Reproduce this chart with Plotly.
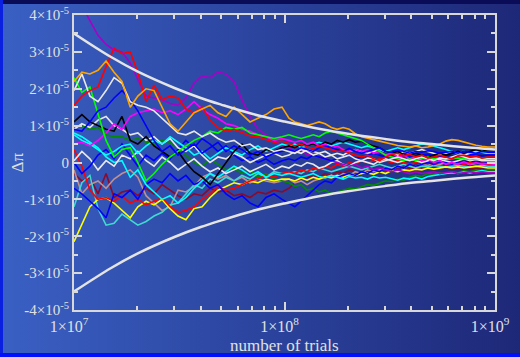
import base64
import numpy as np
import plotly.graph_objects as go

# ---------------- data (trials in units of 1e7, deviations in units of 1e-5) -------------
N_GRID = [1.0, 1.09, 1.19, 1.3, 1.42, 1.55, 1.69, 1.85, 2.01, 2.2, 2.4, 2.62, 2.86, 3.12, 3.4,
          3.72, 4.06, 4.43, 4.83, 5.27, 5.76, 6.28, 6.86, 7.48, 8.17, 8.92, 9.73,
          10.5, 11.2, 12, 12.8, 13.7, 14.6, 15.6, 16.7, 17.8, 19, 20.3, 21.7, 23.2, 24.8, 26.5,
          28.3, 30.2, 32.3, 34.5, 36.8, 39.3, 42, 44.9, 48, 51.2, 54.7, 58.4, 62.4, 66.7, 71.2,
          76, 81.2, 86.7, 92.6, 100]

red_up = [1.55, 1.8, 1.95, 2.05, 2.6, 3.1, 2.95, 3.0, 2.45, 1.65, 2.1, 1.7, 1.8, 1.75, 1.45, 1.35, 1.5, 1.15, 0.95, 0.85, 0.9, 0.8, 0.72, 0.7, 0.62, 0.55, 0.58] + \
         [0.5, 0.45, 0.5, 0.42, 0.38, 0.45, 0.4, 0.35, 0.3, 0.32, 0.25, 0.2, 0.15, 0.2, 0.1, 0.05, 0.15, 0.22, 0.25, 0.18, 0.22, 0.15, 0.2, 0.12, 0.15, 0.2, 0.15, 0.1, 0.18, 0.2, 0.15, 0.18, 0.12, 0.15, 0.15]
orange = [2.2, 2.45, 2.4, 2.5, 2.75, 2.45, 2.2, 1.5, 1.8, 2.0, 1.95, 1.5, 1.05, 0.85, 1.1, 1.35, 1.45, 1.55, 1.35, 1.25, 1.5, 1.3, 1.1, 1.2, 1.3, 1.45, 1.5] + \
         [1.2, 1.1, 1.05, 1.0, 1.05, 1.1, 1.05, 0.95, 0.9, 0.95, 0.9, 0.78, 0.7, 0.65, 0.62, 0.58, 0.55, 0.5, 0.46, 0.44, 0.42, 0.45, 0.4, 0.42, 0.45, 0.5, 0.58, 0.62, 0.6, 0.55, 0.5, 0.47, 0.44, 0.42, 0.42]
white1 = [1.95, 2.4, 1.8, 1.65, 1.95, 2.3, 2.15, 1.65, 1.55, 1.5, 1.4, 1.2, 1.0, 0.8, 0.75, 0.85, 0.7, 0.8, 0.65, 0.55, 0.6, 0.45, 0.5, 0.35, 0.4, 0.3, 0.35] + \
         [0.3, 0.25, 0.35, 0.3, 0.2, 0.25, 0.15, 0.2, 0.1, 0.15, 0.2, 0.1, 0.05, 0.12, 0.1, 0.0, 0.05, 0.1, 0.15, 0.1, 0.05, 0.1, 0.15, 0.1, 0.05, 0.12, 0.1, 0.15, 0.2, 0.15, 0.1, 0.12, 0.08, 0.1, 0.1]
white2 = [0.9, 1.05, 0.95, 1.15, 1.25, 1.0, 0.9, 0.75, 0.8, 0.6, 0.7, 0.5, 0.65, 0.4, 0.3, 0.45, 0.2, 0.0, 0.15, 0.1, 0.25, 0.15, 0.0, 0.1, 0.2, 0.25, 0.15] + \
         [0.2, 0.3, 0.25, 0.35, 0.3, 0.25, 0.3, 0.2, 0.25, 0.2, 0.3, 0.35, 0.3, 0.25, 0.3, 0.35, 0.3, 0.25, 0.2, 0.3, 0.25, 0.3, 0.35, 0.3, 0.25, 0.2, 0.25, 0.3, 0.25, 0.2, 0.25, 0.3, 0.28, 0.25, 0.25]
white3 = [0.05, 0.3, 0.1, -0.2, 0.05, -0.1, 0.2, 0.1, 0.3, 0.05, -0.1, 0.15, 0.0, -0.2, -0.05, 0.1, -0.1, -0.25, -0.15, -0.3, -0.2, -0.1, -0.25, -0.15, -0.05, -0.2, -0.1] + \
         [-0.15, -0.05, -0.1, 0.0, -0.05, -0.15, -0.1, 0.0, 0.05, -0.05, -0.1, 0.0, 0.05, 0.0, -0.05, 0.05, 0.1, 0.05, 0.0, 0.05, 0.1, 0.05, 0.0, 0.05, 0.1, 0.08, 0.05, 0.0, 0.05, 0.1, 0.05, 0.08, 0.05, 0.05, 0.05]
blue_up = [0.9, 0.85, 1.1, 1.4, 1.5, 1.75, 1.95, 1.7, 1.4, 1.0, 0.6, 0.3, 0.45, 0.2, 0.35, 0.5, 0.25, 0.4, 0.55, 0.3, 0.45, 0.35, 0.2, 0.3, 0.15, 0.25, 0.3] + \
          [0.35, 0.3, 0.4, 0.35, 0.3, 0.4, 0.45, 0.4, 0.35, 0.3, 0.38, 0.3, 0.25, 0.3, 0.35, 0.4, 0.3, 0.28, 0.35, 0.3, 0.25, 0.3, 0.28, 0.32, 0.3, 0.25, 0.28, 0.3, 0.25, 0.3, 0.28, 0.25, 0.3, 0.28, 0.28]
blue_low = [-0.7, -0.85, -1.05, -1.25, -1.5, -0.85, -0.95, -0.75, -1.0, -0.6, -0.45, -0.55, -0.3, -0.5, -0.35, -0.6, -0.5, -0.7, -0.6, -0.85, -1.0, -0.9, -1.1, -1.2, -0.95, -0.85, -1.0] + \
           [-1.1, -1.2, -1.05, -0.9, -0.75, -0.6, -0.5, -0.55, -0.4, -0.35, -0.3, -0.35, -0.25, -0.3, -0.2, -0.25, -0.15, -0.2, -0.1, -0.15, -0.05, -0.1, -0.05, 0.0, -0.05, 0.02, 0.0, -0.05, 0.02, 0.0, 0.05, 0.0, 0.03, 0.0, 0.0]
blue_mid = [0.0, -0.3, -0.1, 0.2, 0.35, 0.1, 0.5, 0.2, -0.1, 0.2, 0.05, 0.25, 0.1, 0.35, 0.6, 0.4, 0.65, 0.5, 0.3, 0.45, 0.2, 0.05, 0.15, 0.0, 0.1, -0.05, 0.05] + \
           [0.1, 0.05, 0.15, 0.1, 0.2, 0.15, 0.1, 0.05, 0.1, 0.15, 0.2, 0.1, 0.15, 0.2, 0.25, 0.2, 0.15, 0.2, 0.25, 0.2, 0.15, 0.18, 0.2, 0.22, 0.18, 0.15, 0.2, 0.18, 0.15, 0.2, 0.22, 0.2, 0.18, 0.2, 0.2]
black = [1.1, 1.3, 1.1, 1.0, 0.9, 0.85, 1.25, 0.6, 0.5, 0.7, 0.45, 0.3, 0.15, 0.3, 0.0, -0.25, -0.4, -0.6, -0.3, 0.0, 0.3, 0.5, 0.25, 0.2, 0.35, 0.3, 0.4] + \
        [0.45, 0.4, 0.5, 0.45, 0.5, 0.45, 0.55, 0.5, 0.6, 0.55, 0.62, 0.55, 0.58, 0.5, 0.45, 0.4, 0.3, 0.25, 0.3, 0.22, 0.2, 0.25, 0.2, 0.15, 0.2, 0.25, 0.2, 0.25, 0.3, 0.25, 0.3, 0.35, 0.3, 0.35, 0.35]
magenta = [0.5, 0.55, 0.45, 0.6, 0.8, 1.05, 0.9, 1.25, 1.35, 1.4, 1.45, 1.35, 1.4, 1.3, 1.45, 1.65, 1.45, 1.3, 1.2, 1.05, 1.0, 0.9, 0.85, 0.75, 0.7, 0.6, 0.65] + \
          [0.6, 0.55, 0.6, 0.5, 0.55, 0.45, 0.5, 0.4, 0.45, 0.35, 0.3, 0.35, 0.3, 0.35, 0.25, 0.3, 0.2, 0.25, 0.15, 0.2, 0.1, 0.15, 0.05, 0.1, 0.0, 0.05, -0.05, 0.0, -0.05, 0.02, -0.05, 0.0, -0.05, -0.02, -0.05]
lime = [2.3, 1.9, 2.05, 1.3, 0.6, 0.15, 0.35, 0.4, 0.0, -0.5, -0.3, -0.05, 0.15, 0.3, 0.45, 0.6, 0.7, 0.85, 0.8, 0.95, 0.9, 0.95, 0.8, 0.75, 0.7, 0.65, 0.7] + \
       [0.75, 0.7, 0.65, 0.7, 0.75, 0.7, 0.8, 0.85, 0.8, 0.75, 0.7, 0.65, 0.6, 0.5, 0.4, 0.3, 0.2, 0.15, 0.1, 0.05, 0.1, 0.05, 0.1, 0.15, 0.1, 0.12, 0.08, 0.1, 0.12, 0.1, 0.08, 0.1, 0.12, 0.1, 0.1]
darkgreen = [0.95, 1.0, 0.9, 0.95, 0.75, 0.7, 0.7, 0.6, 0.65, 0.55, 0.5, 0.6, 0.55, 0.4, 0.2, 0.0, -0.1, 0.1, -0.05, -0.2, -0.15, -0.3, -0.2, -0.4, -0.3, -0.45, -0.5] + \
            [-0.55, -0.65, -0.6, -0.75, -0.7, -0.8, -0.75, -0.85, -0.8, -0.75, -0.7, -0.72, -0.65, -0.6, -0.62, -0.55, -0.5, -0.52, -0.45, -0.48, -0.4, -0.35, -0.38, -0.3, -0.32, -0.28, -0.3, -0.25, -0.28, -0.22, -0.25, -0.2, -0.22, -0.2, -0.2]
cyan_low = [0.8, 0.7, 0.55, 0.4, 0.15, 0.0, 0.05, -0.4, -0.2, -0.6, -0.8, -1.0, -0.9, -1.1, -0.95, -0.7, -0.5, -0.3, -0.4, -0.25, -0.1, -0.2, -0.35, -0.25, -0.4, -0.3, -0.35] + \
           [-0.3, -0.35, -0.4, -0.35, -0.3, -0.38, -0.42, -0.35, -0.4, -0.45, -0.38, -0.42, -0.4, -0.45, -0.38, -0.42, -0.4, -0.45, -0.48, -0.42, -0.45, -0.4, -0.45, -0.38, -0.35, -0.32, -0.3, -0.28, -0.3, -0.25, -0.28, -0.25, -0.22, -0.25, -0.25]
cyan_up = [0.75, 0.6, 0.5, 0.35, 0.2, 0.3, 0.45, 0.5, 0.25, 0.45, 0.6, 0.5, 0.7, 0.55, 0.4, 0.2, 0.3, 0.1, 0.25, 0.4, 0.3, 0.2, 0.35, 0.45, 0.3, 0.4, 0.5] + \
          [0.45, 0.5, 0.4, 0.45, 0.5, 0.55, 0.5, 0.45, 0.5, 0.55, 0.5, 0.45, 0.4, 0.45, 0.4, 0.35, 0.3, 0.35, 0.4, 0.35, 0.4, 0.45, 0.5, 0.48, 0.45, 0.4, 0.35, 0.3, 0.28, 0.3, 0.25, 0.28, 0.3, 0.25, 0.25]
turquoise = [-1.2, -0.55, -0.35, -1.25, -1.7, -1.65, -1.4, -1.55, -1.7, -1.6, -1.45, -1.35, -1.15, -1.1, -0.85, -0.6, -0.7, -0.45, -0.55, -0.4, -0.5, -0.35, -0.45, -0.3, -0.4, -0.25, -0.3] + \
            [-0.3, -0.25, -0.3, -0.2, -0.25, -0.15, -0.2, -0.25, -0.2, -0.15, -0.1, -0.15, -0.2, -0.15, -0.1, -0.05, -0.1, -0.15, -0.1, -0.05, -0.1, -0.15, -0.1, -0.12, -0.08, -0.1, -0.12, -0.1, -0.08, -0.1, -0.12, -0.1, -0.08, -0.1, -0.1]
yellow = [-2.15, -1.7, -1.2, -1.0, -0.95, -1.1, -1.3, -1.5, -1.2, -1.05, -1.15, -1.0, -1.25, -1.45, -1.55, -1.25, -1.2, -0.95, -0.75, -0.65, -0.55, -0.6, -0.5, -0.55, -0.45, -0.5, -0.45] + \
         [-0.45, -0.5, -0.42, -0.48, -0.4, -0.45, -0.38, -0.42, -0.35, -0.4, -0.32, -0.35, -0.3, -0.28, -0.32, -0.25, -0.3, -0.22, -0.25, -0.2, -0.22, -0.18, -0.2, -0.15, -0.18, -0.15, -0.12, -0.15, -0.12, -0.15, -0.12, -0.1, -0.12, -0.15, -0.15]
maroon = [-0.3, -0.5, -0.4, -0.85, -0.3, -0.95, -0.8, -0.75, -0.9, -0.7, -0.85, -0.6, -0.75, -0.9, -1.0, -0.85, -0.9, -0.7, -0.8, -0.75, -0.9, -0.85, -0.95, -0.8, -0.85, -0.75, -0.8] + \
         [-0.7, -0.55, -0.45, -0.4, -0.35, -0.4, -0.3, -0.35, -0.25, -0.3, -0.2, -0.25, -0.3, -0.2, -0.25, -0.15, -0.2, -0.25, -0.18, -0.22, -0.15, -0.2, -0.18, -0.15, -0.2, -0.15, -0.12, -0.18, -0.15, -0.12, -0.15, -0.18, -0.15, -0.12, -0.12]
rosybrown = [-0.2, -0.85, -0.6, -0.5, -0.7, -0.45, -0.3, -0.2, -0.4, -0.9, -1.1, -1.3, -1.2, -0.75, -0.8, -0.65, -0.4, -0.3, -0.45, -0.35, -0.5, -0.4, -0.55, -0.45, -0.5, -0.55, -0.5] + \
            [-0.45, -0.55, -0.5, -0.6, -0.5, -0.45, -0.4, -0.35, -0.4, -0.3, -0.35, -0.25, -0.3, -0.2, -0.25, -0.2, -0.15, -0.2, -0.1, -0.15, -0.05, -0.1, -0.05, -0.08, -0.02, -0.05, 0.0, -0.05, -0.02, 0.0, -0.05, -0.02, 0.0, -0.03, -0.03]
violet = [4.6, 4.25, 3.85, 3.45, 3.2, 3.05, 3.0, 2.7, 2.25, 1.8, 1.75, 1.7, 1.6, 1.55, 1.75, 2.15, 2.35, 2.3, 2.45, 2.4, 2.2, 1.7, 1.25, 0.9, 0.75, 0.6, 0.45] + \
         [0.4, 0.3, 0.35, 0.2, 0.25, 0.15, 0.1, 0.05, 0.0, -0.05, -0.1, -0.05, -0.15, -0.1, -0.2, -0.15, -0.2, -0.25, -0.2, -0.25, -0.3, -0.25, -0.3, -0.28, -0.25, -0.3, -0.28, -0.25, -0.3, -0.28, -0.25, -0.28, -0.25, -0.28, -0.28]
red_low = [0.35, -0.1, -0.75, -1.0, -0.95, -1.05, -0.9, -1.1, -1.0, -1.15, -1.05, -0.95, -1.2, -1.35, -1.3, -1.2, -1.0, -0.85, -0.65, -0.75, -0.7, -0.6, -0.5, -0.45, -0.35, -0.4, -0.3] + \
          [-0.25, -0.3, -0.2, -0.25, -0.15, -0.2, -0.1, -0.15, -0.05, -0.1, 0.0, -0.05, 0.05, 0.0, 0.05, 0.1, 0.05, 0.0, 0.05, 0.0, -0.05, 0.0, 0.05, 0.0, -0.05, 0.0, 0.02, -0.02, 0.0, -0.05, 0.0, -0.02, 0.0, -0.05, -0.05]

# envelope
ENV_N = [1, 1.5, 2, 3, 4, 5, 7, 10, 15, 20, 30, 40, 50, 70, 100]
ENV_V = [3.5, 2.86, 2.47, 2.02, 1.75, 1.57, 1.32, 1.11, 0.90, 0.78, 0.64, 0.55, 0.50, 0.42, 0.35]

SERIES = [
    ("maroon", maroon, "#8b0a2a"),
    ("rosybrown", rosybrown, "#c09090"),
    ("darkgreen", darkgreen, "#008a00"),
    ("turquoise", turquoise, "#40d8d0"),
    ("yellow", yellow, "#ffff00"),
    ("red_low", red_low, "#ff0000"),
    ("blue_low", blue_low, "#0000ff"),
    ("cyan_low", cyan_low, "#00ffff"),
    ("white3", white3, "#e8e8e8"),
    ("violet", violet, "#a800c8"),
    ("blue_mid", blue_mid, "#0000ff"),
    ("white2", white2, "#e8e8e8"),
    ("cyan_up", cyan_up, "#00ffff"),
    ("black", black, "#000000"),
    ("magenta", magenta, "#ff00ff"),
    ("lime", lime, "#00ff00"),
    ("blue_up", blue_up, "#0000ff"),
    ("white1", white1, "#e8e8e8"),
    ("red_up", red_up, "#ff0000"),
    ("orange", orange, "#ffa500"),
]

Y_TICKS = [-4, -3, -2, -1, 0, 1, 2, 3, 4]
Y_TEXT = ["-4×10<sup>-5</sup>", "-3×10<sup>-5</sup>", "-2×10<sup>-5</sup>", "-1×10<sup>-5</sup>", "0",
          "1×10<sup>-5</sup>", "2×10<sup>-5</sup>", "3×10<sup>-5</sup>", "4×10<sup>-5</sup>"]
X_TICKS = [1e7, 1e8, 1e9]
X_TEXT = ["1×10<sup>7</sup>", "1×10<sup>8</sup>", "1×10<sup>9</sup>"]
X_MINOR = [k * 10 ** e for e in (7, 8) for k in range(2, 10)]
X_TITLE = "number of trials"
Y_TITLE = "Δπ"

# ---------------- figure ----------------
x = np.array(N_GRID) * 1e7
fig = go.Figure()
for name, vals, col in SERIES:
    assert len(vals) == len(N_GRID), (name, len(vals))
    fig.add_trace(go.Scatter(x=x, y=np.array(vals) * 1e-5, mode="lines", name=name,
                             line=dict(color=col, width=1.6), hoverinfo="skip"))

ex = np.array(ENV_N) * 1e7
ev = np.array(ENV_V) * 1e-5
for sgn in (1, -1):
    fig.add_trace(go.Scatter(x=ex, y=sgn * ev, mode="lines",
                             line=dict(color="#e4e4e4", width=2.5, shape="spline"), hoverinfo="skip"))

W, H = 520, 357
ML, MR, MT, MB = 74, 25, 15, 47
pw, ph = W - ML - MR, H - MT - MB

svg = ('<svg xmlns="http://www.w3.org/2000/svg" width="520" height="357" viewBox="0 0 520 357" '
       'preserveAspectRatio="none"><defs><linearGradient id="g" x1="0" y1="0" x2="1" y2="0">'
       '<stop offset="0" stop-color="#3a60c4"/><stop offset="0.5" stop-color="#2b449e"/>'
       '<stop offset="1" stop-color="#1e2878"/></linearGradient></defs>'
       '<rect width="520" height="357" fill="url(#g)"/>'
       '<rect x="0" y="0" width="520" height="4" fill="#0a0c58"/>'
       '<rect x="0" y="0" width="3" height="357" fill="#0a20e0"/>'
       '<rect x="0" y="353" width="520" height="4" fill="#0010ff"/></svg>')
src = "data:image/svg+xml;base64," + base64.b64encode(svg.encode()).decode()

axis_col = "#d8d8d8"
txt_col = "#e0e0e0"
font_fam = "Liberation Serif, Times New Roman, serif"

fig.update_layout(
    template="none",
    width=W, height=H, autosize=False,
    margin=dict(l=ML, r=MR, t=MT, b=MB, pad=0, autoexpand=False),
    paper_bgcolor="#2b449e", plot_bgcolor="rgba(0,0,0,0)",
    showlegend=False,
    font=dict(family=font_fam, color=txt_col),
    images=[dict(source=src, xref="paper", yref="paper", x=-ML / pw, y=1 + MT / ph,
                 sizex=W / pw, sizey=H / ph, xanchor="left", yanchor="top",
                 sizing="stretch", layer="below")],
    xaxis=dict(type="log", range=[7, 9], tickmode="array", tickvals=X_TICKS, ticktext=X_TEXT,
               automargin=False,
               ticks="inside", ticklen=8, tickwidth=2, tickcolor=axis_col,
               showline=True, linecolor=axis_col, linewidth=2, mirror="ticks",
               showgrid=False, zeroline=False, tickfont=dict(size=16, color=txt_col),
               ticklabelshift=-5, ticklabelstandoff=1,
               minor=dict(tickmode="array", tickvals=X_MINOR, ticks="inside", ticklen=4,
                          tickwidth=2, tickcolor=axis_col, showgrid=False)),
    yaxis=dict(range=[-4e-5, 4e-5], tickmode="array", tickvals=[v * 1e-5 for v in Y_TICKS], ticktext=Y_TEXT,
               automargin=False,
               ticks="inside", ticklen=8, tickwidth=2, tickcolor=axis_col,
               showline=True, linecolor=axis_col, linewidth=2, mirror="ticks",
               showgrid=False, zeroline=False, tickfont=dict(size=15, color=txt_col),
               minor=dict(tickmode="array", tickvals=[(k + 0.5) * 1e-5 for k in range(-4, 4)],
                          ticks="inside", ticklen=4, tickwidth=2, tickcolor=axis_col, showgrid=False)),
    annotations=[
        dict(text=X_TITLE, xref="paper", yref="paper", x=0.5, y=-35 / ph, xanchor="center",
             yanchor="middle", showarrow=False, font=dict(size=17, color=txt_col)),
        dict(text=Y_TITLE, xref="paper", yref="paper", x=-57 / pw, y=0.5, xanchor="center",
             yanchor="middle", textangle=-90, showarrow=False, font=dict(size=17, color=txt_col)),
    ],
)

fig.write_html("out.html", config={"displayModeBar": False},
               post_script="document.body.style.margin='0';document.body.style.overflow='hidden';")
